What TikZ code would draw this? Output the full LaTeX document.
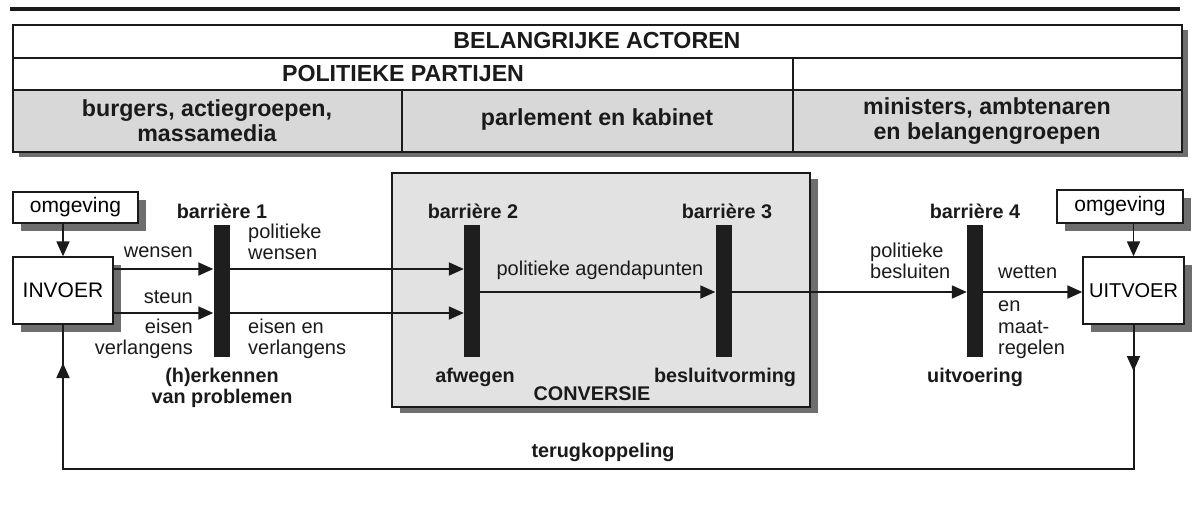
\documentclass[tikz,border=0pt]{standalone}
\usepackage{fontspec}
\setmainfont{Liberation Sans}
\usetikzlibrary{arrows.meta,shadows}
\definecolor{shadowgray}{HTML}{6E6E6E}
\definecolor{rowgray}{HTML}{D8D8D8}
\definecolor{convgray}{HTML}{E2E2E2}
\definecolor{barcol}{HTML}{1E1E1E}
\definecolor{ink}{HTML}{1A1A1A}
\tikzset{
  shad/.style={drop shadow={shadow xshift=8pt, shadow yshift=-8pt, fill=shadowgray, opacity=1}},
  box/.style={draw=ink, line width=1.3pt, fill=white, shad, inner sep=0pt, font=\fontsize{21}{24}\selectfont},
  barrier/.style={fill=barcol, draw=none, minimum width=16pt, minimum height=132pt, inner sep=0pt},
  lbl/.style={font=\fontsize{20}{21.5}\selectfont, inner sep=0pt, text=ink},
  blbl/.style={font=\bfseries\fontsize{19.8}{20.5}\selectfont, inner sep=0pt, text=ink, align=center},
  tbl/.style={font=\bfseries\fontsize{23.2}{25}\selectfont, inner sep=0pt, align=center, text=ink},
  arr/.style={draw=ink, line width=1.8pt, -{Triangle[length=15pt,width=13pt]}},
  conn/.style={draw=ink, line width=2pt},
}
\begin{document}
\begin{tikzpicture}[x=1pt,y=-1pt]
\useasboundingbox (0,0) rectangle (1195,504);
% top rule
\draw[ink, line width=4pt] (10,9) -- (1180,9);
% table
\fill[shadowgray] (19,30) rectangle (1188,157);
\fill[white] (13,25) rectangle (1182,90);
\fill[rowgray] (13,90) rectangle (1182,152);
\draw[ink, line width=1.2pt] (13,25) rectangle (1182,152);
\draw[ink, line width=1.2pt] (13,58) -- (1182,58);
\draw[ink, line width=1.2pt] (13,90) -- (1182,90);
\draw[ink, line width=1.2pt] (793,58) -- (793,152);
\draw[ink, line width=1.2pt] (402,90) -- (402,152);
\node[tbl] (t1) at (597,41) {BELANGRIJKE ACTOREN};
\node[tbl] (t2) at (403,74) {POLITIEKE PARTIJEN};
\node[tbl] (t3) at (207,121) {burgers, actiegroepen,\\massamedia};
\node[tbl] (t4) at (597,119) {parlement en kabinet};
\node[tbl] (t5) at (987,121) {ministers, ambtenaren\\en belangengroepen};
% conversie box
\node[draw=ink, line width=1.2pt, fill=convgray, minimum width=418pt, minimum height=234pt, inner sep=0pt,
      drop shadow={shadow xshift=8pt, shadow yshift=-6pt, fill=shadowgray, opacity=1}] (conv) at (601,290) {};
% boxes
\node[box, minimum width=125pt, minimum height=31pt] (omgL) at (75.5,207.5) {omgeving};
\node[box, minimum width=100pt, minimum height=67pt] (invoer) at (63,290.5) {INVOER};
\node[box, minimum width=126pt, minimum height=33pt] (omgR) at (1120,206.5) {omgeving};
\node[box, minimum width=101pt, minimum height=67pt, font=\fontsize{20}{24}\selectfont] (uitvoer) at (1133.5,290.5) {UITVOER};
% barriers
\node[barrier] (b1) at (221.5,291) {};
\node[barrier] (b2) at (472,291) {};
\node[barrier] (b3) at (723.5,291) {};
\node[barrier] (b4) at (975,291) {};
% helper levels
\coordinate (yw) at (0,269);
\coordinate (ys) at (0,313);
\coordinate (ym) at (0,292);
\coordinate (fby) at (0,469);
\coordinate (tipR) at (0,371);
\coordinate (tipL) at (0,363);
% arrows
\draw[arr] (invoer.north |- omgL.south) -- (invoer.north);
\draw[arr] (uitvoer.north |- omgR.south) -- (uitvoer.north);
\draw[arr] (invoer.east |- yw) -- (b1.west |- yw);
\draw[arr] (invoer.east |- ys) -- (b1.west |- ys);
\draw[arr] (b1.east |- yw) -- (b2.west |- yw);
\draw[arr] (b1.east |- ys) -- (b2.west |- ys);
\draw[arr] (b2.east |- ym) -- (b3.west |- ym);
\draw[arr] (b3.east |- ym) -- (b4.west |- ym);
\draw[arr] (b4.east |- ym) -- (uitvoer.west |- ym);
% feedback
\draw[conn] (uitvoer.south) -- (uitvoer.south |- fby) -- (invoer.south |- fby) -- (invoer.south);
\draw[arr] (uitvoer.south) -- (uitvoer.south |- tipR);
\draw[arr] (invoer.south |- fby) -- (invoer.south |- tipL);
% labels
\node[blbl] (lb1) at (222,211) {barrière 1};
\node[blbl] (lb2) at (473,211) {barrière 2};
\node[blbl] (lb3) at (727,211) {barrière 3};
\node[blbl] (lb4) at (975,211) {barrière 4};
\node[lbl, anchor=east] (lwensen) at (193,252) {wensen};
\node[lbl, anchor=west, align=left] (lpw) at (248,242) {politieke\\wensen};
\node[lbl, anchor=east] (lsteun) at (193,297) {steun};
\node[lbl, anchor=east, align=right] (lev) at (193,339) {eisen\\verlangens};
\node[lbl, anchor=west, align=left] (leev) at (248,339) {eisen en\\verlangens};
\node[blbl] (lherk) at (222,388) {(h)erkennen\\van problemen};
\node[lbl] (lagenda) at (600,270) {politieke agendapunten};
\node[blbl] (lafw) at (475,377) {afwegen};
\node[blbl] (lbesl) at (725,377) {besluitvorming};
\node[blbl] (lconv) at (592,394) {CONVERSIE};
\node[lbl, anchor=west, align=left] (lpb) at (870,261) {politieke\\besluiten};
\node[lbl, anchor=west] (lwetten) at (998,272) {wetten};
\node[lbl, anchor=west, align=left] (lmaat) at (998,330) {en\\maat-\\regelen};
\node[blbl] (luitv) at (975,377) {uitvoering};
\node[blbl] (lterug) at (603,452) {terugkoppeling};
\end{tikzpicture}
\end{document}
